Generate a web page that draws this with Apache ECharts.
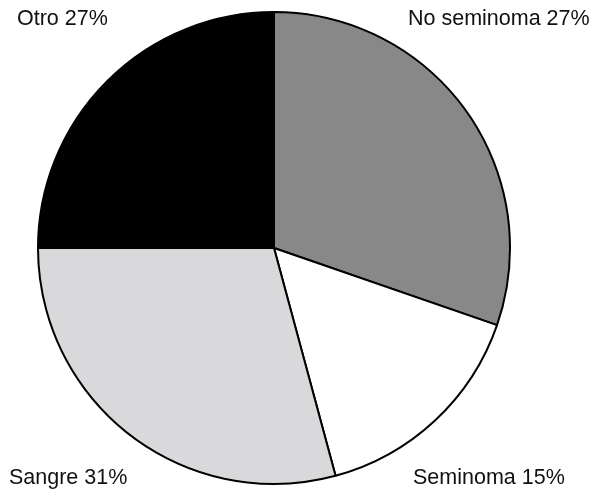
<!DOCTYPE html>
<html><head><meta charset="utf-8">
<script src="https://cdn.jsdelivr.net/npm/echarts@6/dist/echarts.min.js"></script>
<style>html,body{margin:0;padding:0;background:#fff}#c{width:601px;height:489px}</style>
</head><body><div id="c"></div>
<script>
const categories = ['No seminoma', 'Seminoma', 'Sangre', 'Otro'];
const sliceValues = [30.3, 15.5, 29.2, 25.0];
const labelPercents = ['27%', '15%', '31%', '27%'];
const colors = ['#888888', '#ffffff', '#d9d9db', '#000000'];

const chart = echarts.init(document.getElementById('c'), null, {renderer: 'canvas'});
const font = '"Liberation Sans", Arial, Helvetica, sans-serif';
const labelPos = [
  {left: 408, top: 8},
  {left: 413, top: 467},
  {left: 9, top: 467},
  {left: 17, top: 8}
];
chart.setOption({
  animation: false,
  series: [{
    type: 'pie',
    center: [274, 248],
    radius: 236,
    startAngle: 90,
    clockwise: true,
    label: {show: false},
    labelLine: {show: false},
    emphasis: {disabled: true},
    itemStyle: {borderColor: '#000', borderWidth: 2},
    data: categories.map((c, i) => ({name: c, value: sliceValues[i], itemStyle: {color: colors[i]}}))
  }],
  graphic: categories.map((c, i) => Object.assign({
    type: 'text',
    style: {text: c + ' ' + labelPercents[i], font: '21.5px ' + font, fill: '#111'}
  }, labelPos[i]))
});
</script></body></html>
